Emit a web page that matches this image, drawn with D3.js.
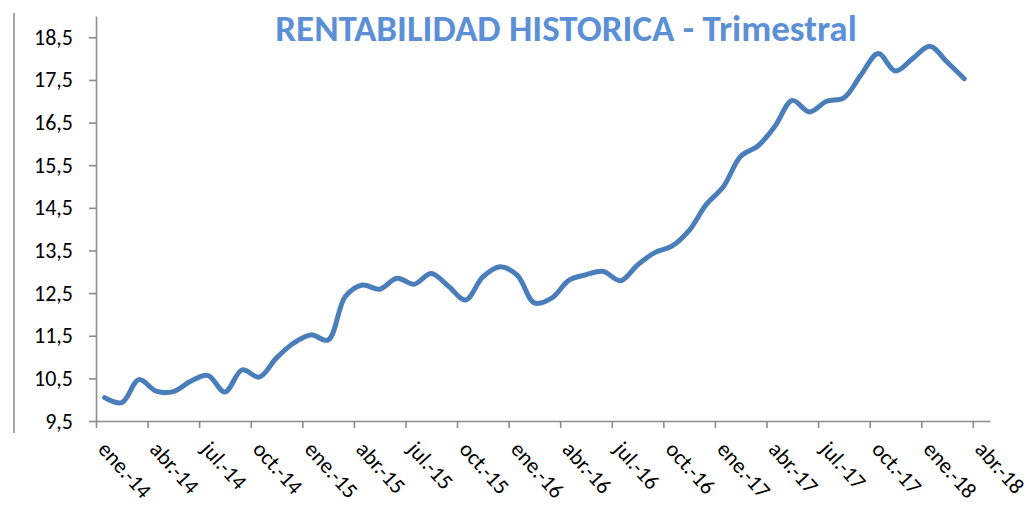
<!DOCTYPE html>
<html>
<head>
<meta charset="utf-8">
<script src="https://cdn.jsdelivr.net/npm/d3@7"></script>
<style>
  body { margin: 0; background: #fff; }
  svg { display: block; font-family: Calibri, Carlito, Lato, sans-serif; }
  .axis path, .axis line { stroke: #8c8c8c; stroke-width: 1.6; }
  .axis text { fill: #000; font-size: 22px; font-family: Calibri, Carlito, Lato, sans-serif; }
</style>
</head>
<body>
<script>
// month categories on the axis (ene.-14 .. abr.-18)
const months = [
  'ene.-14', 'feb.-14', 'mar.-14', 'abr.-14', 'may.-14', 'jun.-14', 'jul.-14', 'ago.-14', 'sep.-14', 'oct.-14', 'nov.-14', 'dic.-14',
  'ene.-15', 'feb.-15', 'mar.-15', 'abr.-15', 'may.-15', 'jun.-15', 'jul.-15', 'ago.-15', 'sep.-15', 'oct.-15', 'nov.-15', 'dic.-15',
  'ene.-16', 'feb.-16', 'mar.-16', 'abr.-16', 'may.-16', 'jun.-16', 'jul.-16', 'ago.-16', 'sep.-16', 'oct.-16', 'nov.-16', 'dic.-16',
  'ene.-17', 'feb.-17', 'mar.-17', 'abr.-17', 'may.-17', 'jun.-17', 'jul.-17', 'ago.-17', 'sep.-17', 'oct.-17', 'nov.-17', 'dic.-17',
  'ene.-18', 'feb.-18', 'mar.-18', 'abr.-18'
];

// rentabilidad trimestral, one value per month (ene.-14 .. mar.-18)
const values = [
  10.05, 9.93, 10.47, 10.20, 10.19, 10.43, 10.57, 10.18, 10.70, 10.53, 10.98, 11.33,
  11.52, 11.40, 12.42, 12.69, 12.59, 12.85, 12.71, 12.96, 12.66, 12.34, 12.88, 13.12,
  12.92, 12.27, 12.38, 12.80, 12.93, 13.01, 12.79, 13.16, 13.45, 13.60, 13.97, 14.58,
  15.00, 15.71, 15.95, 16.42, 17.02, 16.75, 17.00, 17.08, 17.62, 18.12, 17.71, 18.00,
  18.29, 17.92, 17.53
];

const yTicks = [9.5, 10.5, 11.5, 12.5, 13.5, 14.5, 15.5, 16.5, 17.5, 18.5];
const titleText = 'RENTABILIDAD HISTORICA - Trimestral';

const w = 1029, h = 506;
const margins = { left: 96, right: 39, top: 16, bottom: 85 };

const svg = d3.select('body').append('svg')
  .attr('width', w)
  .attr('height', h);

// outer frame line on the left
svg.append('line')
  .attr('x1', 14).attr('x2', 14)
  .attr('y1', 13).attr('y2', 433)
  .attr('stroke', '#a6a6a6')
  .attr('stroke-width', 2);

const x = d3.scaleLinear()
  .domain([0, months.length])
  .range([margins.left, w - margins.right]);

const y = d3.scaleLinear()
  .domain([9.5, 19])
  .range([h - margins.bottom, margins.top]);

const fmt = d => d3.format('.1f')(d).replace('.', ',');

const yAxis = d3.axisLeft(y)
  .tickValues(yTicks)
  .tickFormat(fmt)
  .tickSize(7)
  .tickSizeOuter(0)
  .tickPadding(16);

svg.append('g')
  .attr('class', 'y axis')
  .attr('transform', `translate(${margins.left}, 0)`)
  .call(yAxis);

const xAxis = d3.axisBottom(x)
  .tickValues(d3.range(0, months.length, 3))
  .tickFormat(i => months[i])
  .tickSize(7)
  .tickSizeOuter(0);

const gx = svg.append('g')
  .attr('class', 'x axis')
  .attr('transform', `translate(0, ${h - margins.bottom})`)
  .call(xAxis);

// labels slanted down to the right, starting just after each tick
gx.selectAll('.tick text')
  .attr('transform', 'rotate(48)')
  .attr('x', 22)
  .attr('y', 19)
  .attr('dy', 0)
  .style('text-anchor', 'start');

const line = d3.line()
  .x((d, i) => x(i + 0.5))
  .y(d => y(d))
  .curve(d3.curveCatmullRom.alpha(0.5));

svg.append('path')
  .datum(values)
  .attr('fill', 'none')
  .attr('stroke', '#4a7ebb')
  .attr('stroke-width', 5)
  .attr('stroke-linecap', 'round')
  .attr('stroke-linejoin', 'round')
  .attr('d', line);

svg.append('text')
  .attr('x', 566)
  .attr('y', 41)
  .style('text-anchor', 'middle')
  .style('font-weight', 'bold')
  .style('font-size', '37px')
  .style('fill', '#5b8fd6')
  .text(titleText);
</script>
</body>
</html>
